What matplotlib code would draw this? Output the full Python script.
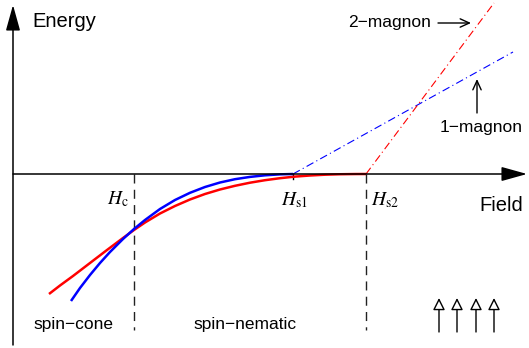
import numpy as np
import matplotlib
matplotlib.use('Agg')
from matplotlib import pyplot as plt

plt.rcParams.update({'font.family': 'Liberation Sans', 'mathtext.fontset': 'stix'})

# field / energy (energy = 0 on the field axis)
blue_field = [71, 80, 90, 100, 110, 123, 134, 145, 160, 175, 190, 205, 220, 235,
              250, 265, 280, 293]
blue_energy = [-127, -114, -101, -89, -78, -65, -55, -46, -35, -26, -18.8, -13,
               -8.5, -5.2, -2.9, -1.3, -0.35, 0]
red_field = [49, 60, 73, 90, 107, 123, 134, 145, 160, 175, 190, 205, 220, 235,
             250, 265, 280, 295, 310, 325, 340, 355, 366]
red_energy = [-120, -111.5, -102, -89, -76, -64, -56, -48.5, -39.5, -32, -25.5,
              -20, -15.5, -11.8, -8.7, -6.2, -4.2, -2.6, -1.5, -0.7, -0.25,
              -0.05, 0]

# magnon branches above saturation
one_magnon_field = [293, 513]
one_magnon_energy = [0, 122]
two_magnon_field = [366, 494]
two_magnon_energy = [0, 171]

h_c, h_s1, h_s2 = 134, 293, 366
up_arrow_x = [439, 457, 476, 494]

fig = plt.figure(figsize=(5.29, 3.48), dpi=100)
ax = fig.add_axes([0, 0, 1, 1])
ax.set_xlim(0, 529)
ax.set_ylim(-174, 174)
ax.axis('off')

# axes arrows
big = dict(arrowstyle='-|>,head_length=0.79,head_width=0.22', mutation_scale=20,
           lw=1.1, color='black', shrinkA=0, shrinkB=0)
ax.annotate('', xy=(13, 169), xytext=(13, -171), arrowprops=big)
ax.annotate('', xy=(527, 0), xytext=(13, 0), arrowprops=big)
ax.text(32, 147, 'Energy', fontsize=14.5, va='baseline')
ax.text(479, -37, 'Field', fontsize=14.5, va='baseline')

# phase boundaries
ax.plot([h_c, h_c], [0, -156], color='#222222', lw=1, ls=(0, (6.5, 4.5)))
ax.plot([h_s2, h_s2], [0, -156], color='#222222', lw=1, ls=(0, (6.5, 4.5)))
ax.plot([h_s1, h_s1], [0, -5], color='black', lw=1)

ax.text(129, -30, r'$H_{\mathrm{c}}$', fontsize=14, ha='right', va='baseline')
ax.text(281, -31, r'$H_{\mathrm{s1}}$', fontsize=14, va='baseline')
ax.text(371, -31, r'$H_{\mathrm{s2}}$', fontsize=14, va='baseline')

# energies
ax.plot(red_field, red_energy, color='red', lw=1.8, solid_capstyle='butt')
ax.plot(blue_field, blue_energy, color='blue', lw=1.8, solid_capstyle='butt')
ax.plot(one_magnon_field, one_magnon_energy, color='blue', lw=0.8, ls=(0, (7, 3, 1, 3)))
ax.plot(two_magnon_field, two_magnon_energy, color='red', lw=0.8, ls=(0, (7, 3, 1, 3)))

small = dict(arrowstyle='->,head_length=0.55,head_width=0.25', mutation_scale=12,
             lw=1, color='black', shrinkA=0, shrinkB=0)
ax.text(431, 147, '2\u2212magnon', fontsize=12.5, ha='right', va='baseline')
ax.annotate('', xy=(471, 151), xytext=(438, 151), arrowprops=small)
ax.text(440, 42, '1\u2212magnon', fontsize=12.5, va='baseline')
ax.annotate('', xy=(477, 95), xytext=(477, 61), arrowprops=small)

ax.text(33, -155, 'spin\u2212cone', fontsize=12.5, va='baseline')
ax.text(193, -155, 'spin\u2212nematic', fontsize=12.5, va='baseline')

# saturated spins
spin = dict(arrowstyle='-|>,head_length=0.72,head_width=0.36', mutation_scale=10,
            lw=1, ec='black', fc='white', shrinkA=0, shrinkB=0)
for x in up_arrow_x:
    ax.annotate('', xy=(x, -124), xytext=(x, -158), arrowprops=spin)

fig.savefig('out.png', dpi=100)
